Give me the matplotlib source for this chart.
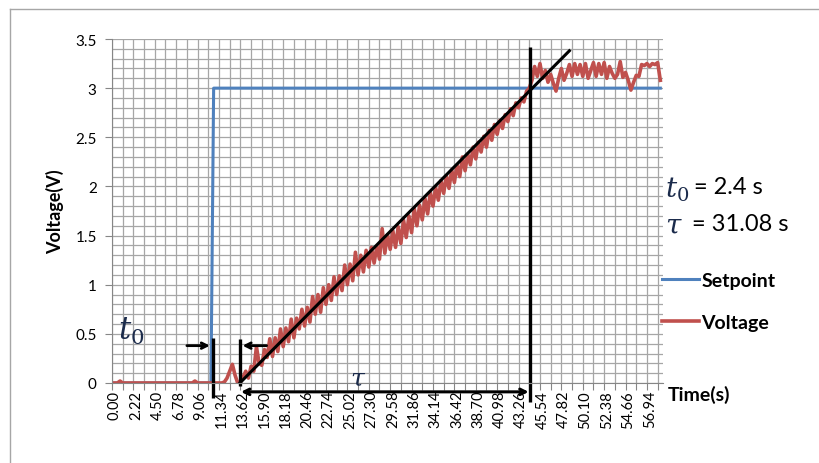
import numpy as np
import matplotlib
matplotlib.use('Agg')
import matplotlib.pyplot as plt
from matplotlib.lines import Line2D

plt.rcParams['font.family'] = ['Lato', 'DejaVu Sans']
plt.rcParams['mathtext.fontset'] = 'dejavuserif'

# category labels shown on the time axis (every 4th category)
tick_labels = ['0.00', '2.22', '4.50', '6.78', '9.06', '11.34', '13.62', '15.90',
               '18.18', '20.46', '22.74', '25.02', '27.30', '29.58', '31.86', '34.14',
               '36.42', '38.70', '40.98', '43.26', '45.54', '47.82', '50.10', '52.38',
               '54.66', '56.94']

# measured voltage, two samples per category
voltage = [0.00, 0.00, 0.02, 0.00, 0.00, 0.00, 0.00, 0.00, 0.00, 0.00,
           0.00, 0.00, 0.00, 0.00, 0.00, 0.00, 0.00, 0.00, 0.00, 0.00,
           0.00, 0.00, 0.00, 0.00, 0.00, 0.00, 0.00, 0.00, 0.00, 0.00,
           0.02, 0.00, 0.00, 0.00, 0.00, 0.00, 0.00, 0.00, 0.00, 0.00,
           0.00, 0.01, 0.05, 0.12, 0.19, 0.08, 0.00, 0.01,
           0.06, 0.12, 0.05, 0.17, 0.12, 0.37, 0.20, 0.18, 0.34, 0.26,
           0.45, 0.27, 0.46, 0.32, 0.55, 0.37, 0.56, 0.42, 0.65, 0.46,
           0.66, 0.55, 0.75, 0.58, 0.77, 0.62, 0.88, 0.70, 0.90, 0.72,
           0.97, 0.80, 1.00, 0.84, 1.08, 0.90, 1.09, 0.94, 1.20, 1.00,
           1.21, 1.04, 1.33, 1.10, 1.30, 1.13, 1.35, 1.18, 1.38, 1.22,
           1.39, 1.26, 1.57, 1.32, 1.51, 1.36, 1.55, 1.38, 1.59, 1.42,
           1.66, 1.48, 1.70, 1.53, 1.78, 1.60, 1.81, 1.66, 1.88, 1.72,
           1.94, 1.80, 1.99, 1.86, 2.06, 1.93, 2.11, 1.98, 2.17, 2.04,
           2.22, 2.10, 2.30, 2.16, 2.33, 2.22, 2.40, 2.28, 2.45, 2.35,
           2.51, 2.40, 2.57, 2.47, 2.63, 2.53, 2.67, 2.59, 2.73, 2.66,
           2.79, 2.72, 2.85, 2.80, 2.90, 2.86, 2.97, 3.00,
           3.08, 3.22, 3.12, 3.25, 3.10, 3.18, 3.06, 3.14, 3.05, 2.97,
           3.10, 3.20, 3.08, 3.15, 3.24, 3.12, 3.25, 3.14, 3.24, 3.12,
           3.25, 3.10, 3.18, 3.26, 3.12, 3.25, 3.14, 3.26, 3.10, 3.22,
           3.15, 3.10, 3.14, 3.27, 3.11, 3.16, 3.08, 2.98, 3.06, 3.13,
           3.12, 3.24, 3.23, 3.25, 3.22, 3.25, 3.24, 3.26, 3.08]

# setpoint step: 0 V, then 3 V
setpoint = [0.0] * 37 + [3.0] * (len(voltage) - 37)

x = np.arange(len(voltage)) * 0.5
xmax = x[-1] + 0.5

fig = plt.figure(figsize=(8.19, 4.64), dpi=100)
ax = fig.add_axes([112/819, 80/464, 551/819, 344/464])

ax.plot(x, setpoint, color='#4F81BD', lw=2.2, label='Setpoint')
ax.plot(x, voltage, color='#C0504D', lw=2.6, label='Voltage')

ax.set_xlim(-0.5, xmax)
ax.set_ylim(0, 3.5)

# x: gridlines / tick marks every 2 categories, labels every 4
ax.set_xticks(np.arange(-0.5, xmax, 2))
ax.set_xticklabels([])
ax.set_xticks(np.arange(0, 4 * len(tick_labels), 4), minor=True)
ax.set_xticklabels(tick_labels, minor=True, rotation=90, fontsize=10.5)
ax.tick_params(axis='x', which='major', length=5, color='#868686')
ax.tick_params(axis='x', which='minor', length=0, pad=5)

ax.set_yticks(np.arange(0, 3.51, 0.5))
ax.set_yticklabels(['0', '0.5', '1', '1.5', '2', '2.5', '3', '3.5'], fontsize=11)
ax.set_yticks(np.arange(0, 3.51, 0.1), minor=True)
ax.tick_params(axis='y', which='major', length=5, color='#868686', pad=6)
ax.tick_params(axis='y', which='minor', length=0)

ax.grid(True, which='major', axis='x', color='#A6A6A6', lw=0.9)
ax.grid(True, which='both', axis='y', color='#A6A6A6', lw=0.9)
ax.set_axisbelow(True)
for s in ['top', 'right']:
    ax.spines[s].set_visible(False)
for s in ['left', 'bottom']:
    ax.spines[s].set_color('#868686')

ax.set_ylabel('Voltage(V)', fontsize=13, fontweight='bold')
ax.yaxis.set_label_coords(-0.087, 0.5)

ax.legend(loc='upper left', bbox_to_anchor=(662/819, 1 - 273/464),
          bbox_transform=fig.transFigure, frameon=False,
          prop={'weight': 'bold', 'size': 14}, handlelength=1.9,
          handletextpad=0.12, labelspacing=1.3, borderpad=0, borderaxespad=0)

fig.text(668/819, 1 - 395/464, 'Time(s)', fontsize=14, fontweight='bold', va='center')

# annotation lines drawn on the chart
k = dict(color='k', lw=2.4, clip_on=False, solid_capstyle='butt')
ax.plot([18.3, 18.3], [0.46, -0.15], **k)
ax.plot([23.4, 23.4], [0.45, -0.03], **k)
ax.plot([77.6, 77.6], [3.42, -0.19], **k)
ax.plot([23.4, 85.0], [0.0, 3.38], color='k', lw=2.2, clip_on=False)

arr = dict(arrowstyle='->', lw=2, color='k', shrinkA=0, shrinkB=0)
ax.annotate('', xy=(17.8, 0.38), xytext=(13.5, 0.38), arrowprops=arr, annotation_clip=False)
ax.annotate('', xy=(23.9, 0.38), xytext=(28.4, 0.38), arrowprops=arr, annotation_clip=False)
ax.annotate('', xy=(77.4, -0.09), xytext=(23.6, -0.09),
            arrowprops=dict(arrowstyle='<->', lw=2.2, color='k', shrinkA=0, shrinkB=0),
            annotation_clip=False)

navy = '#1B2B4B'
ax.text(0.6, 0.38, r'$t_0$', fontsize=22, color=navy, va='bottom', clip_on=False)
ax.text(43.9, -0.07, r'$\tau$', fontsize=18, color=navy, va='bottom', clip_on=False)

fig.text(665/819, 1 - 190/464, r'$t_0$', fontsize=20, color=navy, va='center')
fig.text(694/819, 1 - 188/464, '= 2.4 s', fontsize=17, va='center')
fig.text(665/819, 1 - 226/464, r'$\tau$', fontsize=20, color=navy, va='center')
fig.text(692/819, 1 - 225/464, '= 31.08 s', fontsize=17, va='center')

# chart frame (top and left edges visible)
fig.add_artist(Line2D([10/819, 1], [1 - 10/464, 1 - 10/464], transform=fig.transFigure,
                      color='#A6A6A6', lw=1))
fig.add_artist(Line2D([10/819, 10/819], [0, 1 - 10/464], transform=fig.transFigure,
                      color='#A6A6A6', lw=1))

fig.savefig('out.png', dpi=100)
